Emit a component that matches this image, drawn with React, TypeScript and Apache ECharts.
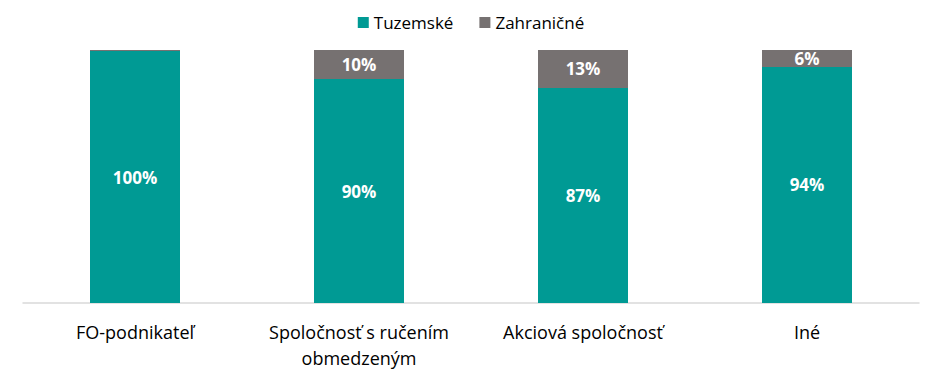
import React, { useEffect, useRef } from "react";
import * as echarts from "echarts";

const categories = ["FO-podnikateľ", "Spoločnosť s ručením\nobmedzeným", "Akciová spoločnosť", "Iné"];
// bar shares as drawn (%)
const tuzemske = [99.6, 88.5, 85, 93.3];
const zahranicne = [0.4, 11.5, 15, 6.7];
// percentages printed on the bars
const tuzemskeLabels = ["100%", "90%", "87%", "94%"];
const zahranicneLabels = ["", "10%", "13%", "6%"];

const FONT = "'Open Sans', 'Noto Sans', sans-serif";

export default function App() {
  const ref = useRef<HTMLDivElement>(null);
  useEffect(() => {
    document.body.style.margin = "0";
    if (!ref.current) return;
    const chart = echarts.init(ref.current, null, { renderer: "svg" });
    const mkLabel = (texts: string[]) => ({
      show: true,
      position: "inside",
      color: "#ffffff",
      fontWeight: "bold",
      fontSize: 17,
      fontFamily: FONT,
      formatter: (p: any) => texts[p.dataIndex],
    });
    chart.setOption({
      animation: false,
      legend: {
        top: 9,
        left: "center",
        itemWidth: 11,
        itemHeight: 11,
        itemGap: 26,
        icon: "rect",
        textStyle: { fontSize: 17, fontFamily: FONT, color: "#000" },
        data: ["Tuzemské", "Zahraničné"],
      },
      grid: { left: 23, right: 23, top: 50, bottom: 72, containLabel: false },
      xAxis: {
        type: "category",
        data: categories,
        axisTick: { show: false },
        axisLine: { lineStyle: { color: "#d9d9d9", width: 1.5 } },
        axisLabel: {
          fontSize: 18,
          fontFamily: FONT,
          color: "#000",
          margin: 16,
          lineHeight: 26,
          interval: 0,
        },
      },
      yAxis: {
        type: "value",
        min: 0,
        max: 100,
        show: false,
        splitLine: { show: false },
      },
      series: [
        {
          name: "Tuzemské",
          type: "bar",
          stack: "a",
          barWidth: 90,
          data: tuzemske,
          itemStyle: { color: "#009A94" },
          label: mkLabel(tuzemskeLabels),
        },
        {
          name: "Zahraničné",
          type: "bar",
          stack: "a",
          barWidth: 90,
          data: zahranicne,
          itemStyle: { color: "#767171" },
          label: mkLabel(zahranicneLabels),
        },
      ],
    });
    return () => chart.dispose();
  }, []);
  return <div ref={ref} style={{ width: 942, height: 375 }} />;
}
